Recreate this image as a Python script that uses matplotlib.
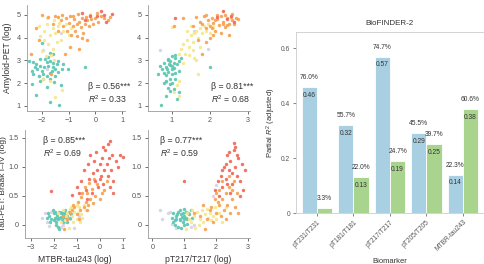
"""
Partial R2 case study: tau biomarkers vs amyloid-PET / tau-PET (BioFINDER-2).
"""

import matplotlib

matplotlib.use("Agg")
import matplotlib.pyplot as plt
import numpy as np

plt.rcParams["font.family"] = ["Liberation Sans", "DejaVu Sans"]
plt.rcParams["mathtext.fontset"] = "custom"
plt.rcParams["mathtext.it"] = "Liberation Sans:italic"
plt.rcParams["mathtext.rm"] = "Liberation Sans"

# ---- bar chart data ----
biomarkers = ["pT231/T231", "pT181/T181", "pT217/T217", "pT205/T205", "MTBR-tau243"]
r2_amyloid = [0.46, 0.32, 0.57, 0.29, 0.14]
r2_tau = [0.02, 0.13, 0.19, 0.25, 0.38]
pct_amyloid = ["76.0%", "55.7%", "74.7%", "45.5%", "22.3%"]
pct_tau = ["3.3%", "22.0%", "24.7%", "39.7%", "60.6%"]

# ---- scatter data, one list per group ----
# top-left: MTBR-tau243 vs amyloid-PET
tl_teal = [(-2.46, 2.98), (-2.31, 2.91), (-2.25, 2.69), (-2.37, 2.55), (-2.19, 2.62), (-2.06, 2.76),
           (-2.0, 2.55), (-1.94, 2.40), (-2.09, 2.33), (-2.31, 2.40), (-1.81, 2.91), (-1.69, 2.98),
           (-1.75, 2.76), (-1.57, 2.69), (-1.44, 2.84), (-1.63, 2.55), (-1.81, 2.33), (-1.94, 2.19),
           (-1.69, 2.19), (-1.51, 2.33), (-1.38, 2.47), (-1.26, 2.62), (-2.06, 3.05), (-1.88, 3.05),
           (-1.38, 2.98), (-1.2, 2.84), (-1.01, 2.62), (-2.37, 1.97), (-2.21, 1.46), (-1.69, 1.18),
           (-1.35, 1.03), (-0.4, 2.69), (-2.0, 3.77), (-1.57, 3.27), (-1.69, 3.34), (-1.75, 3.15),
           (-1.6, 2.9), (-1.9, 2.7), (-2.2, 2.85), (-1.5, 2.6), (-1.7, 2.45), (-2.05, 2.1),
           (-1.3, 1.9), (-1.8, 1.85), (-1.55, 2.05)]
tl_yellow = [(-2.1, 4.5), (-1.9, 4.3), (-1.8, 4.6), (-1.7, 4.1), (-1.6, 4.4), (-1.5, 4.2), (-1.4, 4.5),
             (-1.3, 3.9), (-1.2, 4.3), (-1.9, 3.9), (-1.75, 3.7), (-1.6, 3.5), (-1.45, 3.8), (-2.05, 4.05),
             (-1.35, 4.65), (-1.1, 4.6), (-1.0, 4.1), (-1.65, 3.25), (-1.55, 3.0), (-1.95, 2.2),
             (-2.0, 3.4), (-1.25, 1.7), (-1.5, 1.4), (-1.8, 4.85), (-1.55, 4.75), (-0.9, 4.4),
             (-1.85, 3.2), (-1.7, 2.1)]
tl_orange = [(-2.4, 3.3), (-2.2, 4.4), (-2.0, 5.0), (-1.75, 4.9), (-1.5, 4.95), (-1.3, 4.75), (-1.2, 4.5),
             (-1.1, 4.85), (-1.0, 4.65), (-0.95, 4.95), (-0.85, 4.5), (-0.8, 4.8), (-0.75, 4.3), (-0.7, 4.6),
             (-0.65, 5.05), (-0.6, 4.7), (-0.55, 4.45), (-0.5, 4.85), (-0.45, 4.2), (-0.4, 4.6),
             (-0.35, 4.9), (-0.3, 4.75), (-0.25, 4.5), (-0.2, 5.0), (-0.15, 4.8), (-0.1, 4.6), (0.0, 4.85),
             (0.1, 4.7), (0.2, 4.95), (0.3, 4.85), (0.45, 4.75), (0.55, 4.9), (-0.9, 4.1), (-1.05, 4.3),
             (-0.7, 4.05), (-0.5, 4.0), (-0.3, 3.9), (-1.6, 4.6), (-1.4, 4.3), (-2.1, 3.9), (-1.65, 2.4),
             (-1.15, 3.3), (-0.95, 3.6), (-0.6, 3.5), (-0.85, 4.95), (-1.25, 5.0), (0.05, 5.1), (-1.4, 4.9)]
tl_red = [(0.2, 5.15), (0.6, 5.05), (-0.2, 4.95), (0.4, 4.7), (-0.5, 5.1), (0.05, 4.95), (-0.4, 4.75), (0.3, 5.0)]
tl_other = [(-1.95, 3.45), (-1.8, 2.6), (-1.3, 4.2), (-2.1, 2.3)]

# top-right: pT217/T217 vs amyloid-PET
tr_teal = [(0.8, 2.9), (0.85, 2.7), (0.9, 3.05), (0.95, 2.8), (1.0, 2.6), (0.9, 2.5), (0.85, 2.35),
           (0.95, 2.2), (1.0, 2.4), (1.05, 2.9), (1.1, 3.1), (1.0, 3.2), (0.75, 2.6), (0.7, 2.75),
           (0.8, 2.45), (1.05, 2.65), (1.15, 2.85), (1.2, 2.95), (0.9, 3.0), (0.95, 2.95), (0.85, 2.1),
           (0.95, 1.95), (1.1, 2.45), (1.2, 2.55), (1.25, 3.1), (0.8, 2.0), (0.65, 2.4), (0.72, 1.05),
           (0.85, 1.45), (0.95, 1.65), (1.05, 1.75), (1.15, 1.3), (1.2, 1.6), (0.9, 1.8), (1.0, 2.0),
           (1.1, 2.2), (2.02, 2.7), (0.92, 2.85), (1.0, 2.75), (0.88, 2.6), (1.08, 3.25)]
tr_yellow = [(1.25, 3.5), (1.3, 3.7), (1.4, 3.9), (1.45, 3.6), (1.5, 4.1), (1.55, 3.8), (1.6, 4.2),
             (1.65, 4.3), (1.7, 4.0), (1.75, 4.4), (1.8, 4.2), (1.85, 4.5), (1.9, 4.3), (1.95, 4.6),
             (1.2, 3.3), (1.35, 3.3), (1.45, 3.25), (1.55, 3.45), (1.65, 3.0), (1.7, 2.4), (1.3, 2.9),
             (1.2, 2.1), (1.15, 1.9), (1.2, 1.45), (1.05, 1.6), (1.0, 4.45), (1.5, 4.5), (2.1, 4.45),
             (1.6, 3.1), (1.4, 4.3), (2.0, 4.2), (1.75, 3.6)]
tr_orange = [(1.3, 4.85), (1.55, 4.5), (1.65, 4.9), (1.8, 4.6), (1.85, 4.95), (1.9, 4.4), (1.95, 4.75),
             (2.0, 4.5), (2.05, 4.85), (2.1, 4.65), (2.15, 4.3), (2.2, 4.8), (2.25, 4.55), (2.3, 4.95),
             (2.35, 4.7), (2.4, 4.45), (2.45, 4.85), (2.5, 4.6), (2.55, 4.9), (2.6, 4.75), (2.65, 4.6),
             (2.7, 4.85), (2.3, 4.2), (2.5, 4.1), (2.2, 5.0), (2.0, 4.0), (1.7, 3.9), (1.9, 3.8),
             (1.8, 3.3), (2.1, 4.1), (1.75, 4.7), (2.4, 5.0), (2.6, 5.05), (2.75, 4.8), (2.15, 4.75),
             (2.35, 4.6), (2.45, 4.55), (1.05, 4.5), (1.9, 5.0), (2.05, 4.4)]
tr_red = [(2.35, 5.15), (2.55, 4.95), (2.65, 4.7), (2.2, 4.9), (1.1, 4.85), (2.45, 4.8)]
tr_other = [(0.7, 3.45), (0.85, 2.05), (1.6, 4.3), (1.95, 3.5)]

# bottom-left: MTBR-tau243 vs tau-PET
bl_teal = [(-2.2, 0.15), (-2.1, 0.1), (-2.0, 0.2), (-1.95, 0.12), (-1.9, 0.05), (-1.85, 0.18), (-1.8, 0.1),
           (-1.75, 0.22), (-1.7, 0.14), (-1.65, 0.08), (-1.6, 0.18), (-1.55, 0.12), (-1.5, 0.2),
           (-1.45, 0.1), (-1.4, 0.16), (-1.35, 0.22), (-1.3, 0.12), (-2.05, 0.25), (-1.9, 0.0),
           (-1.8, -0.03), (-1.75, -0.08), (-2.15, 0.05), (-1.95, 0.22), (-1.6, 0.05), (-1.5, 0.25),
           (-1.7, 0.2), (-2.3, 0.12), (-1.25, 0.18), (-1.65, 0.23), (-1.85, 0.15), (-2.0, 0.08),
           (-1.4, 0.05), (-2.25, 0.2), (-1.55, 0.17), (-1.75, 0.12)]
bl_yellow = [(-1.5, 0.08), (-1.4, 0.2), (-1.3, 0.28), (-1.2, 0.15), (-1.1, 0.22), (-1.0, 0.1), (-0.9, 0.3),
             (-0.8, 0.18), (-0.7, 0.35), (-1.6, 0.25), (-1.8, 0.2), (-1.15, 0.05), (-0.6, 0.25),
             (-1.35, -0.05), (-1.0, 0.35), (-0.85, 0.05), (-1.25, 0.3), (-1.45, 0.15), (-0.95, 0.2),
             (-1.7, 0.05), (-0.75, 0.12)]
bl_orange = [(-1.6, 0.15), (-1.3, 0.2), (-1.1, 0.3), (-1.0, 0.18), (-0.95, 0.4), (-0.85, 0.25), (-0.8, 0.48),
             (-0.7, 0.3), (-0.6, 0.4), (-0.55, 0.55), (-0.5, 0.35), (-0.4, 0.45), (-0.35, 0.62),
             (-0.3, 0.38), (-0.2, 0.5), (-0.1, 0.7), (-1.55, -0.07), (-0.9, 0.1), (-0.65, 0.65),
             (-0.45, 0.72), (0.0, 0.45), (0.2, 0.6), (0.3, 0.75), (-1.15, 0.35), (-0.75, 0.55),
             (-1.4, 0.1), (-0.25, 0.8), (0.1, 0.55), (-1.2, 0.25), (-0.55, 0.25)]
bl_red = [(-1.2, 0.52), (-2.1, 0.58), (-1.0, 0.65), (-0.8, 0.75), (-0.7, 0.95), (-0.6, 0.6), (-0.5, 1.05),
          (-0.45, 0.8), (-0.4, 1.2), (-0.3, 0.9), (-0.25, 1.1), (-0.2, 0.75), (-0.15, 1.25), (-0.1, 0.95),
          (-0.05, 0.65), (0.0, 1.05), (0.05, 0.85), (0.1, 1.15), (0.15, 0.7), (0.2, 0.95), (0.25, 1.3),
          (0.3, 1.05), (0.35, 0.85), (0.4, 1.15), (0.45, 1.45), (0.5, 0.95), (0.55, 1.2), (0.6, 0.75),
          (0.7, 1.1), (0.8, 1.0), (0.9, 1.2), (1.0, 1.18), (0.35, 1.4), (-0.55, 0.45), (0.15, 1.35),
          (0.6, 0.55), (-0.35, 0.55), (0.45, 0.65), (-0.9, 0.55), (0.0, 0.8)]
bl_other = [(-2.5, 0.12), (-2.4, 0.2), (-2.3, 0.05), (-2.2, -0.02), (-1.9, 0.1), (-1.6, 0.0), (-1.3, 0.1),
            (-1.1, -0.05), (-2.1, 0.22), (-1.5, 0.05), (-1.7, -0.04), (-0.9, 0.15)]

# bottom-right: pT217/T217 vs tau-PET
br_teal = [(0.6, 0.12), (0.65, 0.2), (0.7, 0.08), (0.75, 0.15), (0.8, 0.22), (0.85, 0.1), (0.9, 0.18),
           (0.95, 0.05), (1.0, 0.15), (1.05, 0.22), (1.1, 0.1), (1.15, 0.18), (1.2, 0.25), (0.7, 0.0),
           (0.8, -0.03), (0.9, -0.05), (1.0, 0.0), (0.85, 0.25), (0.95, 0.2), (1.05, 0.12), (1.1, 0.02),
           (0.75, 0.1), (1.25, 0.12), (0.65, 0.05), (0.92, 0.14), (0.88, 0.08), (1.0, 0.27), (0.78, 0.18),
           (1.12, 0.2), (0.98, 0.1)]
br_yellow = [(1.1, 0.2), (1.2, 0.05), (1.3, 0.15), (1.4, 0.22), (1.5, 0.1), (1.55, 0.25), (1.6, 0.05),
             (1.65, 0.18), (1.7, 0.28), (1.75, 0.12), (1.8, 0.2), (1.85, 0.08), (1.9, 0.15), (1.95, 0.3),
             (2.0, 0.1), (2.1, 0.2), (2.2, 0.05), (1.45, 0.0), (1.35, -0.05), (1.25, 0.25), (2.3, 0.3),
             (1.05, -0.08), (1.15, 0.1)]
br_orange = [(1.3, 0.2), (1.5, 0.15), (1.7, 0.1), (1.8, 0.25), (1.9, 0.05), (2.0, 0.2), (2.1, 0.35),
             (2.15, 0.15), (2.2, 0.45), (2.25, 0.25), (2.3, 0.55), (2.35, 0.35), (2.4, 0.65), (2.45, 0.2),
             (2.5, 0.45), (2.55, 0.75), (2.6, 0.3), (2.65, 0.55), (2.0, 0.55), (2.1, 0.6), (1.6, 0.35),
             (1.65, -0.08), (2.2, 0.75), (2.7, 0.2), (2.4, 0.85), (1.95, 0.45), (2.3, 0.1), (2.05, 0.4),
             (1.85, 0.3), (2.5, 0.6)]
br_red = [(1.0, 0.76), (1.95, 0.6), (2.1, 0.5), (2.15, 0.85), (2.2, 0.65), (2.25, 1.0), (2.3, 0.8),
          (2.35, 1.2), (2.4, 0.95), (2.45, 1.1), (2.5, 0.7), (2.55, 1.3), (2.6, 1.0), (2.65, 0.85),
          (2.7, 1.15), (2.75, 0.75), (2.8, 1.05), (2.85, 0.6), (2.9, 0.95), (2.55, 1.42), (2.6, 1.35),
          (2.3, 1.05), (2.45, 0.55), (2.4, 1.25), (2.65, 1.2), (2.2, 0.95), (2.75, 0.5), (2.5, 0.9),
          (2.35, 0.7), (2.05, 0.75)]
br_other = [(0.25, 0.25), (0.3, 0.1), (0.5, 0.2), (0.6, 0.02), (0.75, -0.05), (1.2, -0.03), (1.3, 0.0),
            (0.55, 0.22), (2.0, 0.68), (1.9, 0.5)]

GROUP_COLORS = ["#d9d3e9", "#5fc8b2", "#f6e78e", "#f8a252", "#f26a5b"]
TEXT = "#333333"
SPINE = "#9a9a9a"


def _style_scatter_axis(ax):
    for side in ("top", "right"):
        ax.spines[side].set_visible(False)
    for side in ("left", "bottom"):
        ax.spines[side].set_color(SPINE)
        ax.spines[side].set_linewidth(0.6)
    ax.tick_params(labelsize=5.2, colors="#555555", length=2.5, width=0.6, pad=2)


def _scatter_panel(ax, groups):
    for pts, color in zip(groups, GROUP_COLORS):
        arr = np.asarray(pts)
        ax.scatter(arr[:, 0], arr[:, 1], s=6, c=color, linewidths=0, alpha=0.95)
    _style_scatter_axis(ax)


fig = plt.figure(figsize=(4.85, 2.64), dpi=100)

ax_tl = fig.add_axes([0.0557, 0.580, 0.202, 0.401])
ax_tr = fig.add_axes([0.3045, 0.580, 0.210, 0.401])
ax_bl = fig.add_axes([0.0515, 0.100, 0.206, 0.408])
ax_br = fig.add_axes([0.3045, 0.100, 0.210, 0.408])
ax_bar = fig.add_axes([0.610, 0.193, 0.388, 0.686])

_scatter_panel(ax_tl, [tl_other, tl_teal, tl_yellow, tl_orange, tl_red])
_scatter_panel(ax_tr, [tr_other, tr_teal, tr_yellow, tr_orange, tr_red])
_scatter_panel(ax_bl, [bl_other, bl_teal, bl_yellow, bl_orange, bl_red])
_scatter_panel(ax_br, [br_other, br_teal, br_yellow, br_orange, br_red])

ax_tl.set_xlim(-2.55, 1.1)
ax_tl.set_ylim(0.78, 5.43)
ax_tl.set_xticks([-2, -1, 0, 1])
ax_tl.set_yticks([1, 2, 3, 4, 5])
ax_tr.set_xlim(0.37, 3.05)
ax_tr.set_ylim(0.78, 5.43)
ax_tr.set_xticks([1, 2, 3])
ax_tr.set_yticks([1, 2, 3, 4, 5])
ax_bl.set_xlim(-3.25, 1.1)
ax_bl.set_ylim(-0.22, 1.64)
ax_bl.set_xticks([-3, -2, -1, 0, 1])
ax_bl.set_yticks([0, 0.5, 1.0, 1.5])
ax_bl.set_yticklabels(["0", "0.5", "1.0", "1.5"])
ax_br.set_xlim(-0.15, 3.05)
ax_br.set_ylim(-0.22, 1.64)
ax_br.set_xticks([0, 1, 2, 3])
ax_br.set_yticks([0, 0.5, 1.0, 1.5])
ax_br.set_yticklabels(["0", "0.5", "1.0", "1.5"])

ax_tl.set_ylabel("Amyloid-PET (log)", fontsize=6.2, color=TEXT, labelpad=3)
ax_bl.set_ylabel("Tau-PET: Braak I\u2013IV (log)", fontsize=6.0, color=TEXT, labelpad=1.5)
ax_bl.set_xlabel("MTBR-tau243 (log)", fontsize=6.2, color=TEXT, labelpad=3)
ax_br.set_xlabel("pT217/T217 (log)", fontsize=6.2, color=TEXT, labelpad=3)

ax_tl.text(0.62, 0.21, "\u03b2 = 0.56***", fontsize=6.3, color=TEXT, transform=ax_tl.transAxes)
ax_tl.text(0.62, 0.07, "$R^2$ = 0.33", fontsize=6.3, color=TEXT, transform=ax_tl.transAxes)
ax_tr.text(0.62, 0.21, "\u03b2 = 0.81***", fontsize=6.3, color=TEXT, transform=ax_tr.transAxes)
ax_tr.text(0.62, 0.07, "$R^2$ = 0.68", fontsize=6.3, color=TEXT, transform=ax_tr.transAxes)
ax_bl.text(0.18, 0.88, "\u03b2 = 0.85***", fontsize=6.3, color=TEXT, transform=ax_bl.transAxes)
ax_bl.text(0.18, 0.75, "$R^2$ = 0.69", fontsize=6.3, color=TEXT, transform=ax_bl.transAxes)
ax_br.text(0.12, 0.88, "\u03b2 = 0.77***", fontsize=6.3, color=TEXT, transform=ax_br.transAxes)
ax_br.text(0.12, 0.75, "$R^2$ = 0.59", fontsize=6.3, color=TEXT, transform=ax_br.transAxes)

# ---- bar chart ----
x = np.arange(len(biomarkers))
width = 0.42
bars_a = ax_bar.bar(x - width / 2, r2_amyloid, width, color="#a9cfe2", edgecolor="white", linewidth=0.6)
bars_t = ax_bar.bar(x + width / 2, r2_tau, width, color="#a8d48d", edgecolor="white", linewidth=0.6)

for bars, values, pcts in ((bars_a, r2_amyloid, pct_amyloid), (bars_t, r2_tau, pct_tau)):
    for rect, val, pct in zip(bars, values, pcts):
        cx = rect.get_x() + rect.get_width() / 2
        ax_bar.text(cx, val + 0.022, pct, ha="center", va="bottom", fontsize=4.8, color=TEXT)
        if val > 0.05:
            ax_bar.text(cx, val - 0.03, f"{val:.2f}", ha="center", va="center", fontsize=4.8, color=TEXT)

ax_bar.set_xlim(-0.58, 4.58)
ax_bar.set_ylim(0, 0.66)
ax_bar.set_yticks([0, 0.2, 0.4, 0.6])
ax_bar.set_yticklabels(["0", "0.2", "0.4", "0.6"])
ax_bar.set_xticks(x)
ax_bar.set_xticklabels(biomarkers, rotation=45, ha="right", rotation_mode="anchor")
ax_bar.tick_params(labelsize=4.8, colors="#555555", length=2, width=0.5, pad=2)
for spine in ax_bar.spines.values():
    spine.set_color("#cccccc")
    spine.set_linewidth(0.6)
ax_bar.set_title("BioFINDER-2", fontsize=5.8, color=TEXT, pad=5)
ax_bar.set_ylabel("Partial $R^2$ (adjusted)", fontsize=5.5, color=TEXT, labelpad=2.5)
ax_bar.set_xlabel("Biomarker", fontsize=5.5, color=TEXT, labelpad=4)

fig.savefig("out.png", dpi=100)
plt.close(fig)
